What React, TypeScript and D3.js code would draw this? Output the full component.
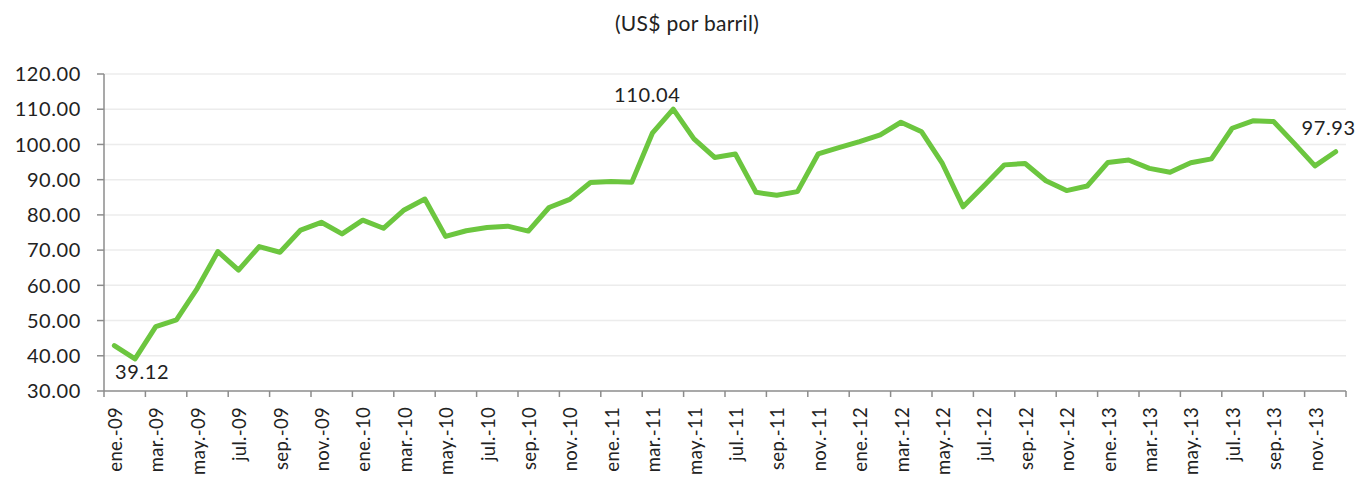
import React from "react";
import * as d3 from "d3";

const months = ["ene.", "feb.", "mar.", "abr.", "may.", "jun.", "jul.", "ago.", "sep.", "oct.", "nov.", "dic."];
const years = ["09", "10", "11", "12", "13"];
const categories: string[] = years.flatMap((y) => months.map((m) => `${m}-${y}`));

const prices: number[] = [
  42.9, 39.12, 48.3, 50.2, 59.1, 69.6, 64.3, 71.0, 69.4, 75.7, 77.9, 74.6,
  78.5, 76.2, 81.4, 84.5, 73.9, 75.5, 76.4, 76.8, 75.4, 82.1, 84.4, 89.2,
  89.5, 89.3, 103.3, 110.04, 101.6, 96.3, 97.3, 86.4, 85.6, 86.6, 97.3, 99.1,
  100.8, 102.7, 106.3, 103.6, 94.6, 82.3, 88.2, 94.2, 94.6, 89.7, 86.9, 88.2,
  94.9, 95.6, 93.2, 92.1, 94.8, 95.9, 104.6, 106.7, 106.5, 100.3, 93.9, 97.93,
];

const yTicks: number[] = [30, 40, 50, 60, 70, 80, 90, 100, 110, 120];
const labeledPoints: { idx: number; dx: number; dy: number }[] = [
  { idx: 1, dx: 7, dy: 20 },
  { idx: 27, dx: -26, dy: -7 },
  { idx: 59, dx: -7, dy: -17 },
];
const title = "(US$ por barril)";

const W = 1361;
const H = 478;
const M = { left: 104, right: 1346, top: 74, bottom: 391 };
const FONT = "Lato, 'Open Sans', sans-serif";

export default function App() {
  const x = d3.scaleBand<string>().domain(categories).range([M.left, M.right]);
  const y = d3.scaleLinear().domain([30, 120]).range([M.bottom, M.top]);
  const cx = (i: number) => (x(categories[i]) as number) + x.bandwidth() / 2;
  const line = d3
    .line<number>()
    .x((_, i) => cx(i))
    .y((d) => y(d));

  const tickIdx = categories.map((_, i) => i).filter((i) => i % 2 === 0);

  return (
    <svg width={W} height={H} style={{ position: "absolute", left: 0, top: 0, background: "#fff" }} fontFamily={FONT}>
      <text x={687} y={31} textAnchor="middle" fontSize={21} fill="#222" letterSpacing={0.3}>
        {title}
      </text>
      {yTicks.map((t) => (
        <g key={t}>
          {t !== 30 && (
            <line x1={M.left} x2={M.right} y1={y(t)} y2={y(t)} stroke="#ececec" strokeWidth={1.5} />
          )}
          <line x1={M.left - 7} x2={M.left} y1={y(t)} y2={y(t)} stroke="#8c8c8c" strokeWidth={1.5} />
          <text x={81} y={y(t)} dy="0.36em" textAnchor="end" fontSize={20} fill="#222" letterSpacing={0.6}>
            {t.toFixed(2)}
          </text>
        </g>
      ))}
      <line x1={M.left} x2={M.left} y1={M.top} y2={M.bottom} stroke="#8c8c8c" strokeWidth={1.5} />
      <line x1={M.left} x2={M.right} y1={M.bottom} y2={M.bottom} stroke="#8c8c8c" strokeWidth={1.5} />
      {tickIdx.map((i) => (
        <line
          key={"t" + i}
          x1={x(categories[i])}
          x2={x(categories[i])}
          y1={M.bottom}
          y2={M.bottom + 6}
          stroke="#8c8c8c"
          strokeWidth={1.5}
        />
      ))}
      <line x1={M.right} x2={M.right} y1={M.bottom} y2={M.bottom + 6} stroke="#8c8c8c" strokeWidth={1.5} />
      {tickIdx.map((i) => (
        <text
          key={"l" + i}
          transform={`translate(${cx(i) + 1},${M.bottom + 16}) rotate(-90)`}
          dy="0.36em"
          textAnchor="end"
          fontSize={18.5}
          fill="#222"
          letterSpacing={0.3}
        >
          {categories[i]}
        </text>
      ))}
      <path d={line(prices) || ""} fill="none" stroke="#6cc63f" strokeWidth={5} strokeLinejoin="round" strokeLinecap="round" />
      {labeledPoints.map((p) => (
        <text key={"d" + p.idx} x={cx(p.idx) + p.dx} y={y(prices[p.idx]) + p.dy} textAnchor="middle" fontSize={20} fill="#222" letterSpacing={0.6}>
          {prices[p.idx].toFixed(2)}
        </text>
      ))}
    </svg>
  );
}
